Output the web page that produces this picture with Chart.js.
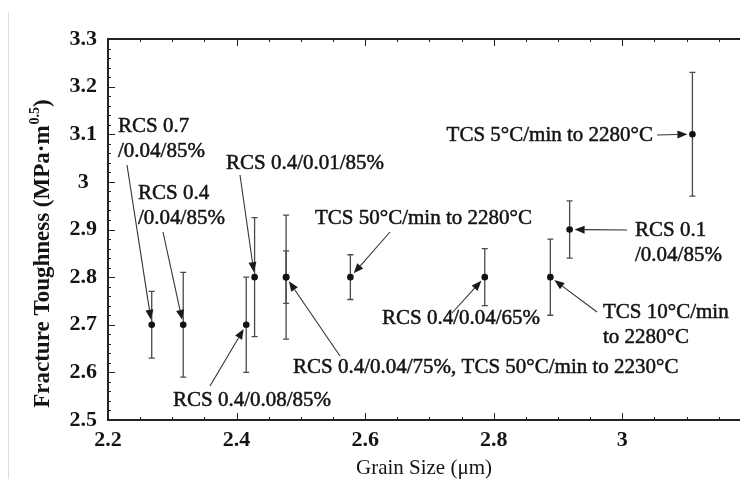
<!DOCTYPE html>
<html>
<head>
<meta charset="utf-8">
<title>Fracture toughness vs grain size</title>
<script src="https://cdn.jsdelivr.net/npm/chart.js@4.4.1/dist/chart.umd.min.js"></script>
<style>
  html, body { margin: 0; padding: 0; background: #fff; }
  #wrap { width: 747px; height: 479px; }
</style>
</head>
<body>
<div id="wrap"><canvas id="toughnessChart" width="747" height="479"></canvas></div>
<script>
// grain size (um), toughness (MPa m^0.5) and the +/- error of each sample
const grainSize = [2.268, 2.317, 2.415, 2.428, 2.477, 2.477, 2.577, 2.786, 2.888, 2.918, 3.109];
const toughness = [2.7, 2.7, 2.7, 2.8, 2.8, 2.8, 2.8, 2.8, 2.8, 2.9, 3.1];
const toughErr  = [0.07, 0.11, 0.1, 0.125, 0.13, 0.055, 0.047, 0.06, 0.08, 0.06, 0.13];

// sample labels and which point each one points at
const noteText = [
  ["RCS 0.7", "/0.04/85%"],
  ["RCS 0.4", "/0.04/85%"],
  ["RCS 0.4/0.01/85%"],
  ["RCS 0.4/0.08/85%"],
  ["TCS 50°C/min to 2280°C"],
  ["RCS 0.4/0.04/75%, TCS 50°C/min to 2230°C"],
  ["RCS 0.4/0.04/65%"],
  ["TCS 10°C/min", "to 2280°C"],
  ["RCS 0.1", "/0.04/85%"],
  ["TCS 5°C/min to 2280°C"],
];
const notePoint = [0, 1, 3, 2, 6, 4, 7, 8, 9, 10];

// where each label sits and where its arrow starts (canvas px)
const noteLayout = [
  { x: 118, y: 126, align: "left", tail: [127, 165] },
  { x: 138, y: 193, align: "left", tail: [163, 232] },
  { x: 226, y: 163, align: "left", tail: [240, 175] },
  { x: 173, y: 400, align: "left", tail: [210, 386] },
  { x: 315, y: 218, align: "left", tail: [390, 232] },
  { x: 293, y: 367, align: "left", tail: [340, 356] },
  { x: 382, y: 318, align: "left", tail: [452, 313] },
  { x: 603, y: 312, align: "left", tail: [597, 312] },
  { x: 635, y: 230, align: "left", tail: [627, 230] },
  { x: 653, y: 135, align: "right", tail: [657, 135] },
];

const serif = "'Liberation Serif', 'Times New Roman', serif";
const ink = "#141414";

function drawArrow(ctx, x0, y0, x1, y1) {
  const a = Math.atan2(y1 - y0, x1 - x0);
  const len = 10, half = 4;
  const c = Math.cos(a), s = Math.sin(a);
  ctx.beginPath();
  ctx.moveTo(x0, y0);
  ctx.lineTo(x1 - len * c, y1 - len * s);
  ctx.stroke();
  ctx.beginPath();
  ctx.moveTo(x1, y1);
  ctx.lineTo(x1 - len * c + half * s, y1 - len * s - half * c);
  ctx.lineTo(x1 - len * c - half * s, y1 - len * s + half * c);
  ctx.closePath();
  ctx.fill();
}

const errorBars = {
  id: "errorBars",
  beforeDatasetsDraw(chart) {
    const { ctx, scales: { x, y } } = chart;
    ctx.save();
    ctx.strokeStyle = "#4a4a4a";
    ctx.lineWidth = 1.3;
    grainSize.forEach((g, i) => {
      const px = x.getPixelForValue(g);
      const top = y.getPixelForValue(toughness[i] + toughErr[i]);
      const bot = y.getPixelForValue(toughness[i] - toughErr[i]);
      ctx.beginPath();
      ctx.moveTo(px, top); ctx.lineTo(px, bot);
      ctx.moveTo(px - 3, top); ctx.lineTo(px + 3, top);
      ctx.moveTo(px - 3, bot); ctx.lineTo(px + 3, bot);
      ctx.stroke();
    });
    ctx.restore();
  },
};

const frameAndNotes = {
  id: "frameAndNotes",
  afterDraw(chart) {
    const { ctx, chartArea: area, scales: { x, y } } = chart;
    ctx.save();

    // faint page edge
    ctx.strokeStyle = "#dcdcdc";
    ctx.lineWidth = 1;
    ctx.beginPath(); ctx.moveTo(8.5, 12); ctx.lineTo(8.5, 479); ctx.stroke();

    // frame
    ctx.strokeStyle = "#222";
    ctx.lineWidth = 2;
    ctx.beginPath();
    ctx.moveTo(area.right, area.top); ctx.lineTo(area.left, area.top);
    ctx.lineTo(area.left, area.bottom); ctx.lineTo(area.right, area.bottom);
    ctx.stroke();

    // inward ticks: x every 0.05 (major 0.2), y every 0.02 (major 0.1)
    ctx.lineWidth = 1;
    ctx.beginPath();
    for (let k = 0; ; k++) {
      const v = x.min + k * 0.05;
      if (v > x.max + 1e-9) break;
      const px = Math.round(x.getPixelForValue(v)) + 0.5;
      const l = k % 4 === 0 ? 7 : 3;
      ctx.moveTo(px, area.bottom); ctx.lineTo(px, area.bottom - l);
      ctx.moveTo(px, area.top); ctx.lineTo(px, area.top + l);
    }
    for (let k = 0; k <= 40; k++) {
      const py = Math.round(y.getPixelForValue(y.min + k * 0.02)) + 0.5;
      const l = k % 5 === 0 ? 7 : 3;
      ctx.moveTo(area.left, py); ctx.lineTo(area.left + l, py);
    }
    ctx.stroke();

    // y axis title with superscript exponent
    ctx.translate(43, 254);
    ctx.rotate(-Math.PI / 2);
    ctx.fillStyle = ink;
    ctx.textBaseline = "middle";
    const mainFont = "bold 23px " + serif, supFont = "bold 14px " + serif;
    const p1 = "Fracture Toughness (MPa·m", p2 = "0.5", p3 = ")";
    ctx.font = mainFont; const w1 = ctx.measureText(p1).width, w3 = ctx.measureText(p3).width;
    ctx.font = supFont; const w2 = ctx.measureText(p2).width;
    let sx = -(w1 + w2 + w3) / 2;
    ctx.textAlign = "left";
    ctx.font = mainFont; ctx.fillText(p1, sx, 0); sx += w1;
    ctx.font = supFont; ctx.fillText(p2, sx + 1, -8); sx += w2 + 1;
    ctx.font = mainFont; ctx.fillText(p3, sx, 0);
    ctx.setTransform(1, 0, 0, 1, 0, 0);

    // labels and arrows (a thin stroke gives the print-like weight)
    ctx.font = "21px " + serif;
    noteText.forEach((lines, i) => {
      const lay = noteLayout[i];
      ctx.textAlign = lay.align;
      ctx.textBaseline = "middle";
      ctx.fillStyle = ink;
      ctx.strokeStyle = ink;
      ctx.lineWidth = 0.5;
      lines.forEach((t, j) => {
        ctx.fillText(t, lay.x, lay.y + j * 25);
        ctx.strokeText(t, lay.x, lay.y + j * 25);
      });
      const k = notePoint[i];
      const px = x.getPixelForValue(grainSize[k]);
      const py = y.getPixelForValue(toughness[k]);
      const [tx, ty] = lay.tail;
      const d = Math.hypot(px - tx, py - ty);
      const stop = 5;
      ctx.strokeStyle = "#333";
      ctx.fillStyle = "#1a1a1a";
      ctx.lineWidth = 1.1;
      drawArrow(ctx, tx, ty, px - (px - tx) * stop / d, py - (py - ty) * stop / d);
    });

    ctx.restore();
  },
};

const fmt = (v) => String(+v.toFixed(2));

const ctx = document.getElementById("toughnessChart").getContext("2d");
new Chart(ctx, {
  type: "scatter",
  data: {
    datasets: [{
      data: grainSize.map((g, i) => ({ x: g, y: toughness[i] })),
      pointRadius: 3.3,
      pointBackgroundColor: "#111",
      pointBorderWidth: 0,
    }],
  },
  options: {
    responsive: false,
    animation: false,
    layout: { padding: { top: 39, right: 0, bottom: 0, left: 0 } },
    plugins: { legend: { display: false }, tooltip: { enabled: false } },
    scales: {
      x: {
        type: "linear",
        min: 2.2,
        max: 3.183,
        grid: { display: false, drawTicks: false },
        border: { display: false },
        ticks: {
          stepSize: 0.2,
          padding: 7,
          color: ink,
          font: { family: serif, size: 22, weight: "bold" },
          maxRotation: 0,
          callback: (v) => (Math.abs(v * 5 - Math.round(v * 5)) < 1e-6 ? fmt(v) : ""),
        },
        title: {
          display: true,
          text: "Grain Size (μm)",
          color: ink,
          font: { family: serif, size: 21, lineHeight: 1.0 },
          padding: { top: 0, bottom: 0 },
        },
        afterFit: (s) => { s.height = 59; },
      },
      y: {
        min: 2.5,
        max: 3.3,
        grid: { display: false, drawTicks: false },
        border: { display: false },
        ticks: {
          stepSize: 0.1,
          padding: 11,
          crossAlign: "center",
          color: ink,
          font: { family: serif, size: 22, weight: "bold" },
          callback: (v) => fmt(v),
        },
        afterFit: (s) => { s.width = 108; },
      },
    },
  },
  plugins: [errorBars, frameAndNotes],
});
</script>
</body>
</html>
